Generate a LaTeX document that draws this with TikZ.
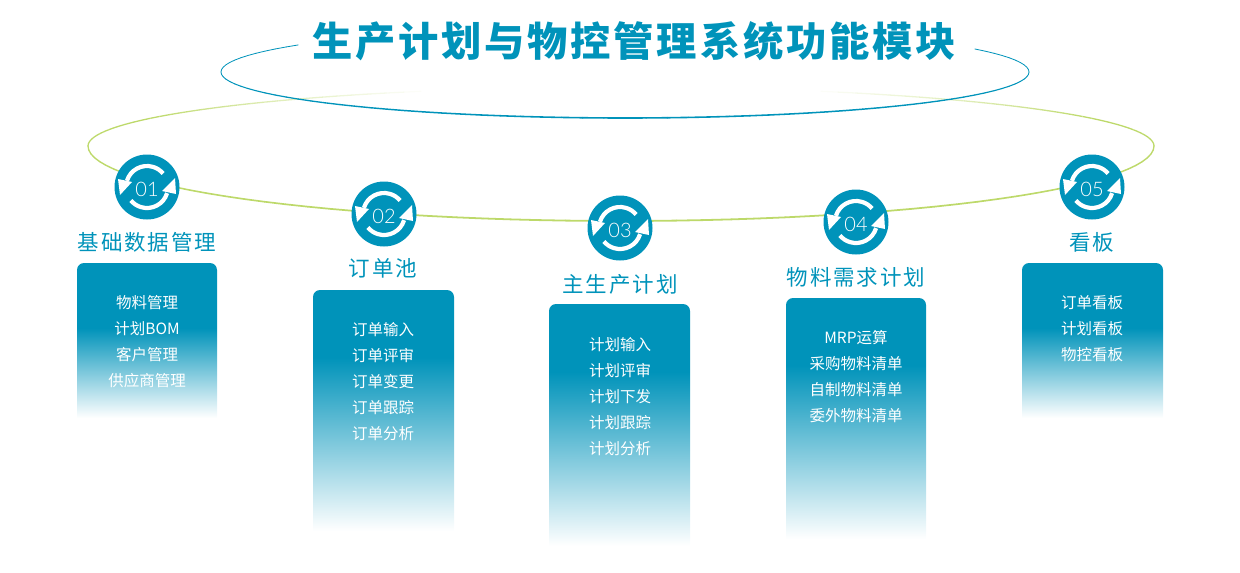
\documentclass[tikz,border=0pt]{standalone}
\usepackage{fontspec}
\setmainfont{Noto Sans CJK SC}
\newfontfamily\ttlfont[LetterSpace=7]{Noto Sans CJK SC}
\newfontfamily\hdfont[LetterSpace=9]{Noto Sans CJK SC}
\newfontfamily\numfont{Lato Light}
\definecolor{brand}{HTML}{0093BA}
\definecolor{lime}{HTML}{BDD96A}
\pgfdeclareverticalshading{cardshort}{100bp}{color(0bp)=(white); color(25bp)=(white); color(54bp)=(brand); color(100bp)=(brand)}
\pgfdeclareverticalshading{cardtall}{100bp}{color(0bp)=(white); color(25bp)=(white); color(61bp)=(brand); color(100bp)=(brand)}
\tikzset{
  headtext/.style={text=brand,font=\hdfont\fontsize{21.5}{21.5}\selectfont,inner sep=0pt,anchor=center},
  itemtext/.style={text=white,font=\fontsize{15.5}{15.5}\selectfont,inner sep=0pt,anchor=center},
  badge/.style={circle,fill=brand,minimum size=65pt,inner sep=0pt},
  numtext/.style={text=white,font=\numfont\fontsize{20}{20}\selectfont,inner sep=0pt},
}
\newcommand{\cardshape}[5]{% x0 x1 y0 y1 shading
  \path[shading=#5] (#1,#4) -- (#1,#3+7) arc[start angle=180,end angle=270,radius=7] -- (#2-7,#3) arc[start angle=270,end angle=360,radius=7] -- (#2,#4) -- cycle;
}
\newcommand{\spinner}[2]{% centre name, number
  \begin{scope}[shift={(#1.center)}]
    \draw[white,line width=4.2pt] (197:21) arc[start angle=197,end angle=320,radius=21];
    \draw[white,line width=4.2pt] (17:21) arc[start angle=17,end angle=140,radius=21];
    \fill[white] (-27,8) -- (-29,-8) -- (-15,-5) -- cycle;
    \fill[white] (28,-9) -- (29,7) -- (15,4) -- cycle;
  \end{scope}
  \node[numtext] at ([yshift=-2pt]#1.center) {#2};
}
\begin{document}
\begin{tikzpicture}[x=1pt,y=-1pt]
\useasboundingbox (0,0) rectangle (1240,573);
% green ellipse, bottom half then faded top ends
\foreach \a [remember=\a as \p (initially 0)] in {3,6,...,180}{
  \pgfmathsetmacro{\w}{1.3+0.5*sin(\a)}
  \draw[lime,line width=\w pt,line cap=round] ({621+533*cos(\p)},{146+75*sin(\p)}) -- ({621+533*cos(\a)},{146+75*sin(\a)});
}
\foreach \a [remember=\a as \p (initially 180)] in {182,184,...,250}{
  \pgfmathsetmacro{\m}{max(0,min(100,100*(250-\a)/40))}
  \draw[lime!\m!white,line width=1.3pt] ({621+533*cos(\p)},{146+59*sin(\p)}) -- ({621+533*cos(\a)},{146+59*sin(\a)});
}
\foreach \a [remember=\a as \p (initially 360)] in {358,356,...,290}{
  \pgfmathsetmacro{\m}{max(0,min(100,100*(\a-290)/40))}
  \draw[lime!\m!white,line width=1.3pt] ({621+533*cos(\p)},{146+59*sin(\p)}) -- ({621+533*cos(\a)},{146+59*sin(\a)});
}
% blue ellipse, broken behind the title
\foreach \a [remember=\a as \p (initially -30)] in {-27,-24,...,216}{
  \pgfmathsetmacro{\w}{0.8+0.8*max(0,sin(\a))}
  \draw[brand,line width=\w pt,line cap=round] ({625+404*cos(\p)},{72+46*sin(\p)}) -- ({625+404*cos(\a)},{72+46*sin(\a)});
}
\node[text=brand,font=\ttlfont\bfseries\fontsize{40.3}{40.3}\selectfont,inner sep=0pt] (title) at (634,41.5) {生产计划与物控管理系统功能模块};
% cards
\cardshape{77}{217}{263}{418}{cardshort}
\cardshape{313}{454}{290}{531}{cardtall}
\cardshape{549}{690}{304}{546}{cardtall}
\cardshape{786}{926}{298}{539}{cardtall}
\cardshape{1022}{1163}{263}{418}{cardshort}
% badges
\node[badge] (b1) at (147,187) {}; \spinner{b1}{01}
\node[badge] (b2) at (384,214) {}; \spinner{b2}{02}
\node[badge] (b3) at (620,228) {}; \spinner{b3}{03}
\node[badge] (b4) at (856,222) {}; \spinner{b4}{04}
\node[badge] (b5) at (1092,187) {}; \spinner{b5}{05}
% headings
\node[headtext] (h1) at (147,242) {基础数据管理};
\node[headtext] (h2) at (383,268) {订单池};
\node[headtext] (h3) at (620,284) {主生产计划};
\node[headtext] (h4) at (856,277) {物料需求计划};
\node[headtext] (h5) at (1092,242) {看板};
% items
\foreach \t [count=\i from 0] in {物料管理,计划BOM,客户管理,供应商管理}
  \node[itemtext] (ia\i) at (147,303+26*\i) {\t};
\foreach \t [count=\i from 0] in {订单输入,订单评审,订单变更,订单跟踪,订单分析}
  \node[itemtext] (ib\i) at (383,330+26*\i) {\t};
\foreach \t [count=\i from 0] in {计划输入,计划评审,计划下发,计划跟踪,计划分析}
  \node[itemtext] (ic\i) at (620,345+25.8*\i) {\t};
\foreach \t [count=\i from 0] in {MRP运算,采购物料清单,自制物料清单,委外物料清单}
  \node[itemtext] (id\i) at (856,338+26*\i) {\t};
\foreach \t [count=\i from 0] in {订单看板,计划看板,物控看板}
  \node[itemtext] (ie\i) at (1092,303+26*\i) {\t};
\end{tikzpicture}
\end{document}
